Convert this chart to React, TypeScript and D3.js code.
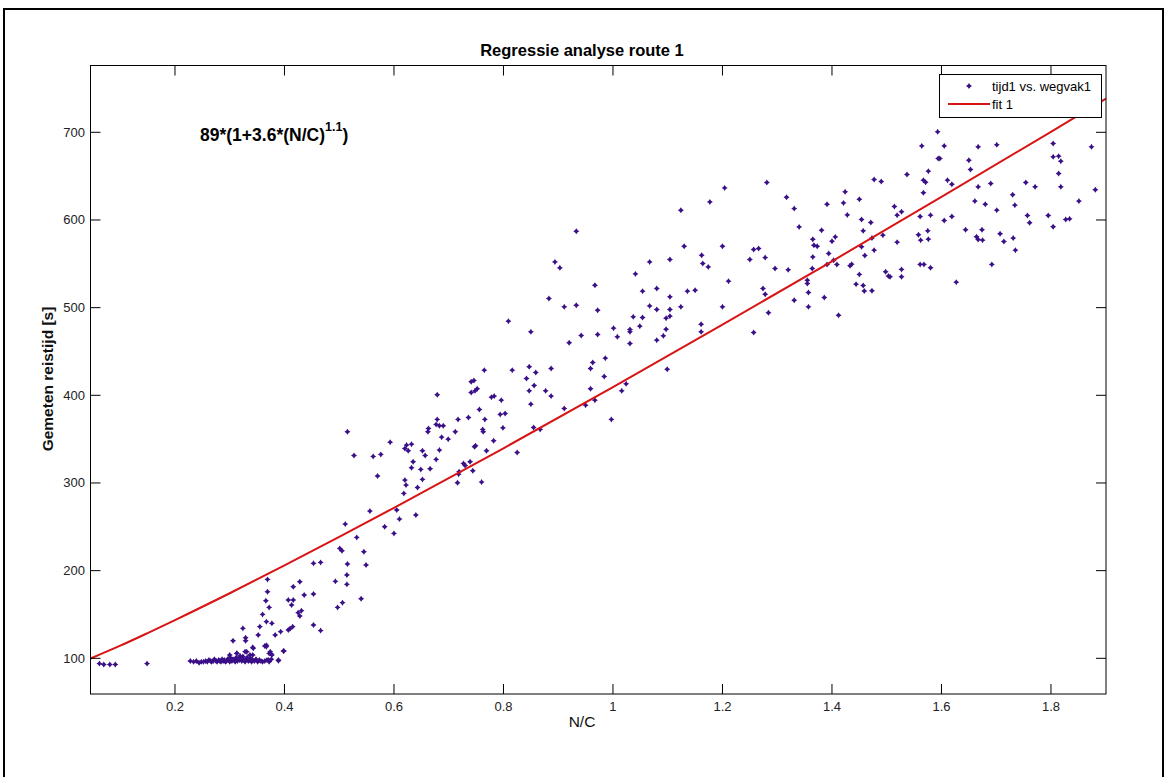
import React from "react";
import * as d3 from "d3";

const chartTitle = "Regressie analyse route 1";
const xLabel = "N/C";
const yLabel = "Gemeten reistijd [s]";
const legendLabels = ["tijd1 vs. wegvak1", "fit 1"];
const xTicks = [0.2, 0.4, 0.6, 0.8, 1.0, 1.2, 1.4, 1.6, 1.8];
const yTicks = [100, 200, 300, 400, 500, 600, 700];
const xDomain = [0.0457, 1.9005];
const yDomain = [59.3, 776.2];

// fit curve 89*(1+3.6*(N/C)^1.1)
const fitX = [0.0457, 0.1, 0.15, 0.2, 0.3, 0.4, 0.5, 0.6, 0.8, 1.0, 1.2, 1.4, 1.6, 1.8, 1.9005];
const fitY = [99.8, 114.4, 128.8, 143.6, 174.2, 205.9, 238.5, 271.7, 339.6, 409.4, 480.6, 552.9, 626.3, 700.6, 738.3];

// measured points [N/C, seconds]
const farLeft: [number, number][] = [
  [0.062, 94], [0.07, 93], [0.081, 93], [0.091, 93], [0.149, 94],
];
const lowCluster: [number, number][] = [
  [0.228, 97], [0.234, 96], [0.239, 97], [0.244, 95], [0.248, 96], [0.252, 96], [0.256, 97], [0.259, 96],
  [0.262, 98], [0.265, 97], [0.267, 96], [0.27, 97], [0.272, 99], [0.275, 97], [0.277, 96], [0.28, 98],
  [0.282, 97], [0.284, 96], [0.286, 99], [0.288, 97], [0.29, 98], [0.292, 96], [0.294, 97], [0.296, 99],
  [0.298, 98], [0.3, 96], [0.302, 100], [0.304, 97], [0.306, 99], [0.308, 98], [0.31, 96], [0.312, 101],
  [0.314, 97], [0.316, 99], [0.318, 98], [0.32, 100], [0.322, 97], [0.324, 102], [0.326, 98], [0.328, 96],
  [0.33, 99], [0.332, 101], [0.334, 97], [0.336, 98], [0.338, 100], [0.34, 96], [0.342, 98], [0.345, 97],
  [0.348, 99], [0.351, 96], [0.354, 98], [0.357, 97], [0.36, 96], [0.364, 97], [0.368, 98], [0.372, 96],
  [0.376, 99], [0.299, 100], [0.3, 103.7], [0.313, 105.6], [0.331, 107.5], [0.343, 111.4], [0.342, 103.7],
  [0.367, 115], [0.372, 105.6], [0.376, 104.8], [0.398, 108.3], [0.389, 97.2],
];
const risingArm: [number, number][] = [
  [0.306, 120.1], [0.324, 134.2], [0.329, 123.5], [0.329, 120.1], [0.342, 112.5], [0.328, 107.6], [0.313, 105.7],
  [0.319, 102.7], [0.337, 103.8], [0.352, 126.6], [0.355, 136.1], [0.36, 150.1], [0.364, 114], [0.367, 113.3],
  [0.369, 190], [0.369, 176], [0.366, 165.7], [0.372, 158.1], [0.367, 141.8], [0.377, 139.9], [0.374, 107.6],
  [0.377, 103.8], [0.371, 98.1], [0.383, 126.6], [0.389, 98.1], [0.393, 130.4], [0.399, 108.3], [0.407, 132.3],
  [0.41, 133.8], [0.415, 136.1], [0.407, 166.5], [0.416, 166.5], [0.413, 160.8], [0.416, 181.7], [0.428, 187.4],
  [0.425, 152.1], [0.428, 148.3], [0.431, 154.4], [0.436, 172.2], [0.453, 208.3], [0.466, 209.4], [0.453, 173.4],
  [0.453, 138], [0.466, 131.6], [0.493, 187.8], [0.497, 158.1], [0.506, 163.5], [0.514, 195], [0.514, 184.4],
  [0.515, 207.5], [0.501, 225.4], [0.505, 222.7], [0.511, 253.1], [0.532, 237.9], [0.54, 168], [0.545, 221.6],
  [0.549, 206.4], [0.556, 267.9], [0.583, 250.1], [0.6, 242.5], [0.605, 269.1], [0.61, 258.8], [0.64, 263.4],
  [0.593, 346.6], [0.515, 358.4], [0.527, 331.4], [0.562, 330.3], [0.576, 332.6], [0.57, 307.9],
];
const middleBand: [number, number][] = [
  [1.124, 611.1], [1.177, 620.6], [1.331, 613], [1.391, 617.9], [1.421, 619.5], [1.428, 605.8], [1.34, 592.1],
  [1.381, 588.3], [0.933, 587.2], [1.13, 570.1], [1.2, 570.1], [1.257, 566.3], [1.266, 567.4], [1.25, 554.9],
  [1.278, 557.1], [1.296, 544.6], [1.32, 543.1], [1.365, 578], [1.367, 571.2], [1.373, 570.1], [1.406, 580.7],
  [1.4, 575.8], [1.394, 561.7], [1.391, 549.2], [1.403, 554.1], [1.409, 549.2], [1.365, 557.9], [1.364, 544.6],
  [0.894, 552.2], [0.903, 545.4], [1.067, 552.2], [1.104, 554.9], [1.162, 559.8], [1.164, 550.3], [1.174, 546.5],
  [1.041, 538.5], [0.967, 525.6], [1.054, 518.8], [1.08, 521.8], [1.104, 512.3], [1.136, 518.8], [1.15, 519.9],
  [1.211, 530.2], [0.883, 510.4], [0.911, 500.9], [0.933, 502.8], [0.972, 497.1], [1.067, 502], [1.08, 497.9],
  [1.104, 497.9], [1.124, 500.9], [1.2, 500.9], [1.274, 521.8], [1.278, 515.3], [1.284, 494.1], [1.355, 531.3],
  [1.355, 527.5], [1.357, 517.2], [1.331, 508.5], [1.357, 500.9], [1.386, 511.5], [1.412, 491.4], [1.257, 471.6],
  [1.161, 481.1], [1.161, 472.4], [0.809, 484.6], [0.85, 472.4], [0.92, 459.9], [0.942, 468.2], [0.972, 469.4],
  [1.001, 476.6], [1.008, 466.7], [1.031, 475.1], [1.031, 472.4], [1.031, 459.1], [1.037, 489.5], [1.054, 488.7],
  [1.049, 478.9], [1.097, 488], [1.104, 490.3], [1.097, 475.4], [1.08, 462.9], [1.092, 467.8], [0.986, 442.4],
  [0.963, 437.4], [0.959, 430.6], [0.984, 421.5], [0.959, 407.4], [0.967, 394.5], [0.95, 388.8], [1.016, 405.1],
  [1.024, 413.1], [0.997, 372.5], [1.099, 429.8], [0.765, 428.7], [0.816, 428.7], [0.847, 432.5], [0.859, 426],
  [0.887, 430.6], [0.842, 419.2], [0.847, 405.1], [0.856, 411.2], [0.877, 405.1], [0.887, 399.1], [0.85, 389.9],
  [0.911, 385], [0.679, 400.6], [0.741, 415.4], [0.746, 416.9], [0.741, 403.2], [0.748, 405.1], [0.752, 407.4],
  [0.778, 397.9], [0.783, 399.1], [0.796, 394.5], [0.756, 383.9], [0.766, 372.5], [0.794, 378.2], [0.803, 379.3],
  [0.799, 362.9], [0.717, 372.5], [0.736, 374.7], [0.712, 358.4], [0.679, 372.5], [0.677, 366.8], [0.683, 365.2],
  [0.69, 365.2], [0.663, 362.2], [0.662, 358.4], [0.687, 352.3], [0.699, 350], [0.683, 337.5], [0.677, 326.9],
  [0.652, 336.7], [0.657, 331.4], [0.632, 344.3], [0.623, 343.2], [0.62, 339.4], [0.626, 336.7], [0.635, 324.2],
  [0.632, 317.4], [0.649, 315.5], [0.666, 316.2], [0.652, 304.1], [0.62, 303.3], [0.622, 297.6], [0.618, 288.1],
  [0.643, 294.9], [0.749, 342.4], [0.747, 341.3], [0.762, 361.1], [0.763, 358.4], [0.782, 348.1], [0.769, 336.7],
  [0.744, 313.9], [0.739, 324.2], [0.727, 322.3], [0.73, 320], [0.719, 312.8], [0.718, 310.1], [0.716, 300.3],
  [0.76, 301], [0.825, 334.8], [0.855, 363.3], [0.867, 361.1],
  [1.204, 636.6], [1.281, 642.7], [1.317, 626],
];
const upperRight: [number, number][] = [
  [1.593, 700.5], [1.564, 684.5], [1.605, 684.5], [1.594, 670.1], [1.597, 670.1], [1.537, 651.9], [1.576, 655.7],
  [1.477, 646.2], [1.49, 643.9], [1.567, 645.4], [1.571, 643.1], [1.567, 631], [1.611, 645.4], [1.619, 640.8],
  [1.65, 668.2], [1.653, 657.6], [1.667, 683.4], [1.701, 685.7], [1.804, 687.2], [1.804, 672], [1.814, 672.8],
  [1.818, 667.1], [1.814, 653], [1.818, 637.8], [1.754, 642.7], [1.771, 637.8], [1.73, 628.7], [1.734, 616.9],
  [1.69, 641.6], [1.667, 637.8], [1.661, 621.5], [1.68, 618], [1.701, 611.2], [1.874, 683.4], [1.881, 634.4],
  [1.851, 621.5], [1.45, 623.7], [1.424, 632.1], [1.454, 600.6], [1.471, 597.1], [1.457, 587.6], [1.493, 582.7],
  [1.473, 579.3], [1.477, 565.6], [1.514, 615.4], [1.519, 605.5], [1.527, 609.3], [1.561, 604], [1.58, 605.5],
  [1.605, 599.4], [1.619, 604], [1.558, 583.1], [1.562, 577], [1.575, 587.6], [1.576, 578.1], [1.519, 574.7],
  [1.454, 569.4], [1.46, 559.5], [1.436, 549.6], [1.433, 547.7], [1.45, 537.9], [1.444, 526.8], [1.457, 525.3],
  [1.459, 518.9], [1.473, 519.2], [1.498, 540.9], [1.503, 536], [1.506, 535.2], [1.527, 543.6], [1.527, 535.2],
  [1.561, 549.3], [1.568, 549.3], [1.58, 545.5], [1.627, 529.1], [1.644, 588.8], [1.674, 588.8], [1.664, 580.8],
  [1.667, 577.8], [1.675, 577], [1.707, 584.2], [1.714, 575.5], [1.731, 579.3], [1.735, 565.6], [1.692, 549.3],
  [1.757, 605.1], [1.761, 596.8], [1.795, 605.1], [1.804, 592.2], [1.827, 600.6], [1.834, 601.3],
];

const points = [...farLeft, ...lowCluster, ...risingArm, ...middleBand, ...upperRight];

const W = 1167;
const H = 777;
const plot = { left: 90.5, right: 1106, top: 65.5, bottom: 694 };
const font = "'Liberation Sans', Arial, Helvetica, sans-serif";
const dotColor = "#3a0f88";
const lineColor = "#d81414";
const starPath = "M0,-3L1.2,-1.2L3,0L1.2,1.2L0,3L-1.2,1.2L-3,0L-1.2,-1.2Z";

export default function App() {
  const x = d3.scaleLinear().domain(xDomain).range([plot.left, plot.right]);
  const y = d3.scaleLinear().domain(yDomain).range([plot.bottom, plot.top]);
  const fitLine = d3
    .line<number>()
    .x((_, i) => x(fitX[i]))
    .y((d) => y(d))
    .curve(d3.curveMonotoneX)(fitY) as string;
  const tick = 10;
  return (
    <svg
      width={W}
      height={H}
      style={{ position: "absolute", left: 0, top: 0, background: "#fff" }}
      fontFamily={font}
    >
      <rect x={0} y={0} width={W} height={H} fill="#fff" />
      <rect x={4} y={9} width={1159} height={780} fill="none" stroke="#000" strokeWidth={2} />
      <defs>
        <clipPath id="plotClip">
          <rect x={plot.left} y={plot.top} width={plot.right - plot.left} height={plot.bottom - plot.top} />
        </clipPath>
      </defs>
      <g clipPath="url(#plotClip)">
        {points.map((p, i) => (
          <path key={i} d={starPath} transform={`translate(${x(p[0])},${y(p[1])})`} fill={dotColor} />
        ))}
        <path d={fitLine} fill="none" stroke={lineColor} strokeWidth={2} />
      </g>
      <rect
        x={plot.left}
        y={plot.top}
        width={plot.right - plot.left}
        height={plot.bottom - plot.top}
        fill="none"
        stroke="#000"
        strokeWidth={1}
      />
      {xTicks.map((t) => (
        <g key={"x" + t}>
          <line x1={x(t)} x2={x(t)} y1={plot.bottom} y2={plot.bottom - tick} stroke="#000" />
          <line x1={x(t)} x2={x(t)} y1={plot.top} y2={plot.top + tick} stroke="#000" />
          <text x={x(t)} y={711} fontSize={13} textAnchor="middle" fill="#222">
            {d3.format("")(t)}
          </text>
        </g>
      ))}
      {yTicks.map((t) => (
        <g key={"y" + t}>
          <line x1={plot.left} x2={plot.left + tick} y1={y(t)} y2={y(t)} stroke="#000" />
          <line x1={plot.right} x2={plot.right - tick} y1={y(t)} y2={y(t)} stroke="#000" />
          <text x={85} y={y(t) + 4.5} fontSize={13} textAnchor="end" fill="#222">
            {t}
          </text>
        </g>
      ))}
      <text x={582} y={56} fontSize={16.5} fontWeight="bold" textAnchor="middle" fill="#000">
        {chartTitle}
      </text>
      <text x={582} y={727} fontSize={15.5} textAnchor="middle" fill="#111">
        {xLabel}
      </text>
      <text
        transform={`translate(53,379) rotate(-90)`}
        fontSize={15.5}
        fontWeight="bold"
        textAnchor="middle"
        fill="#111"
      >
        {yLabel}
      </text>
      <text x={200} y={141} fontSize={17.5} fontWeight="bold" fill="#000">
        89*(1+3.6*(N/C)
        <tspan dy={-10} fontSize={12.5}>1.1</tspan>
        <tspan dy={10} fontSize={17.5}>)</tspan>
      </text>
      <g>
        <rect x={939.5} y={74.5} width={162} height={43} fill="#fff" stroke="#000" strokeWidth={1} />
        <path d={starPath} transform="translate(969,86)" fill={dotColor} />
        <text x={992} y={90.5} fontSize={13} fill="#000">
          {legendLabels[0]}
        </text>
        <line x1={948} x2={990} y1={104} y2={104} stroke={lineColor} strokeWidth={2} />
        <text x={992} y={109} fontSize={13} fill="#000">
          {legendLabels[1]}
        </text>
      </g>
    </svg>
  );
}
